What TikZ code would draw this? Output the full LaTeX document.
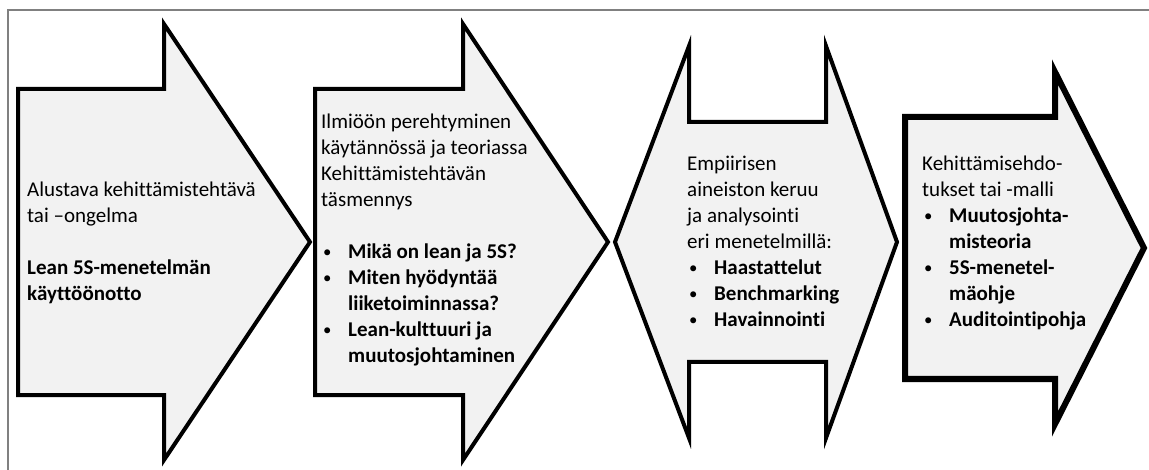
\documentclass[tikz,border=0pt]{standalone}
\usepackage{fontspec}
\setmainfont{Carlito}[RawFeature={-liga;-calt}]
\usepackage{xcolor}
\definecolor{shapefill}{HTML}{F2F2F2}
\definecolor{framegray}{HTML}{808080}

\newcommand{\firstrow}{\rule{0pt}{20pt}}
\newcommand{\bitem}[1]{\hspace*{2pt}\makebox[25pt][l]{\raisebox{1pt}{\scalebox{0.8}{\textbullet}}}\textbf{#1}}
\newcommand{\bcont}[1]{\hspace*{27pt}\textbf{#1}}

\begin{document}
\begin{tikzpicture}[
    x=1pt, y=-1pt,
    font=\fontsize{21}{26}\selectfont,
    arrowshape/.style={
        draw=black,
        line width=4pt,
        line join=miter,
        fill=shapefill
    },
    boldshape/.style={
        arrowshape,
        line width=6pt
    },
    textblock/.style={
        anchor=north west,
        inner sep=0pt,
        align=left
    },
    frameline/.style={
        draw=framegray,
        line width=1.5pt
    }
]
\useasboundingbox (0,0) rectangle (1149,470);

% =========================================================
% Frame
% =========================================================
\draw[frameline] (8,470) -- (8,10) -- (1149,10);

% =========================================================
% Arrow shapes
% =========================================================
\filldraw[arrowshape] (18,89) -- (164,89) -- (164,24) -- (310,242)
    -- (164,460) -- (164,395) -- (18,395) -- cycle;

\filldraw[arrowshape] (315,89) -- (463,89) -- (463,24) -- (608,242)
    -- (463,460) -- (463,395) -- (315,395) -- cycle;

\filldraw[arrowshape] (615,242) -- (689,46) -- (689,122) -- (826,122)
    -- (826,46) -- (897,242) -- (826,438) -- (826,362) -- (689,362)
    -- (689,438) -- cycle;

\filldraw[boldshape] (905,117) -- (1055,117) -- (1055,72) -- (1144,248)
    -- (1055,424) -- (1055,379) -- (905,379) -- cycle;

% =========================================================
% Texts
% =========================================================
\node[textblock] (task) at (27,176)
{\firstrow Alustava kehittämistehtävä\\
tai –ongelma\\[26pt]
\textbf{Lean 5S-menetelmän}\\
\textbf{käyttöönotto}};

\node[textblock] (theory) at (321,108)
{\firstrow Ilmiöön perehtyminen\\
käytännössä ja teoriassa\\
Kehittämistehtävän\\
täsmennys\\[26pt]
\bitem{Mikä on lean ja 5S?}\\
\bitem{Miten hyödyntää}\\
\bcont{liiketoiminnassa?}\\
\bitem{Lean-kulttuuri ja}\\
\bcont{muutosjohtaminen}};

\node[textblock] (empirics) at (687,150)
{\firstrow Empiirisen\\
aineiston keruu\\
ja analysointi\\
eri menetelmillä:\\
\bitem{Haastattelut}\\
\bitem{Benchmarking}\\
\bitem{Havainnointi}};

\node[textblock] (proposal) at (922,150)
{\firstrow Kehittämisehdo-\\
tukset tai -malli\\
\bitem{Muutosjohta-}\\
\bcont{misteoria}\\
\bitem{5S-menetel-}\\
\bcont{mäohje}\\
\bitem{Auditointipohja}};

\end{tikzpicture}
\end{document}
